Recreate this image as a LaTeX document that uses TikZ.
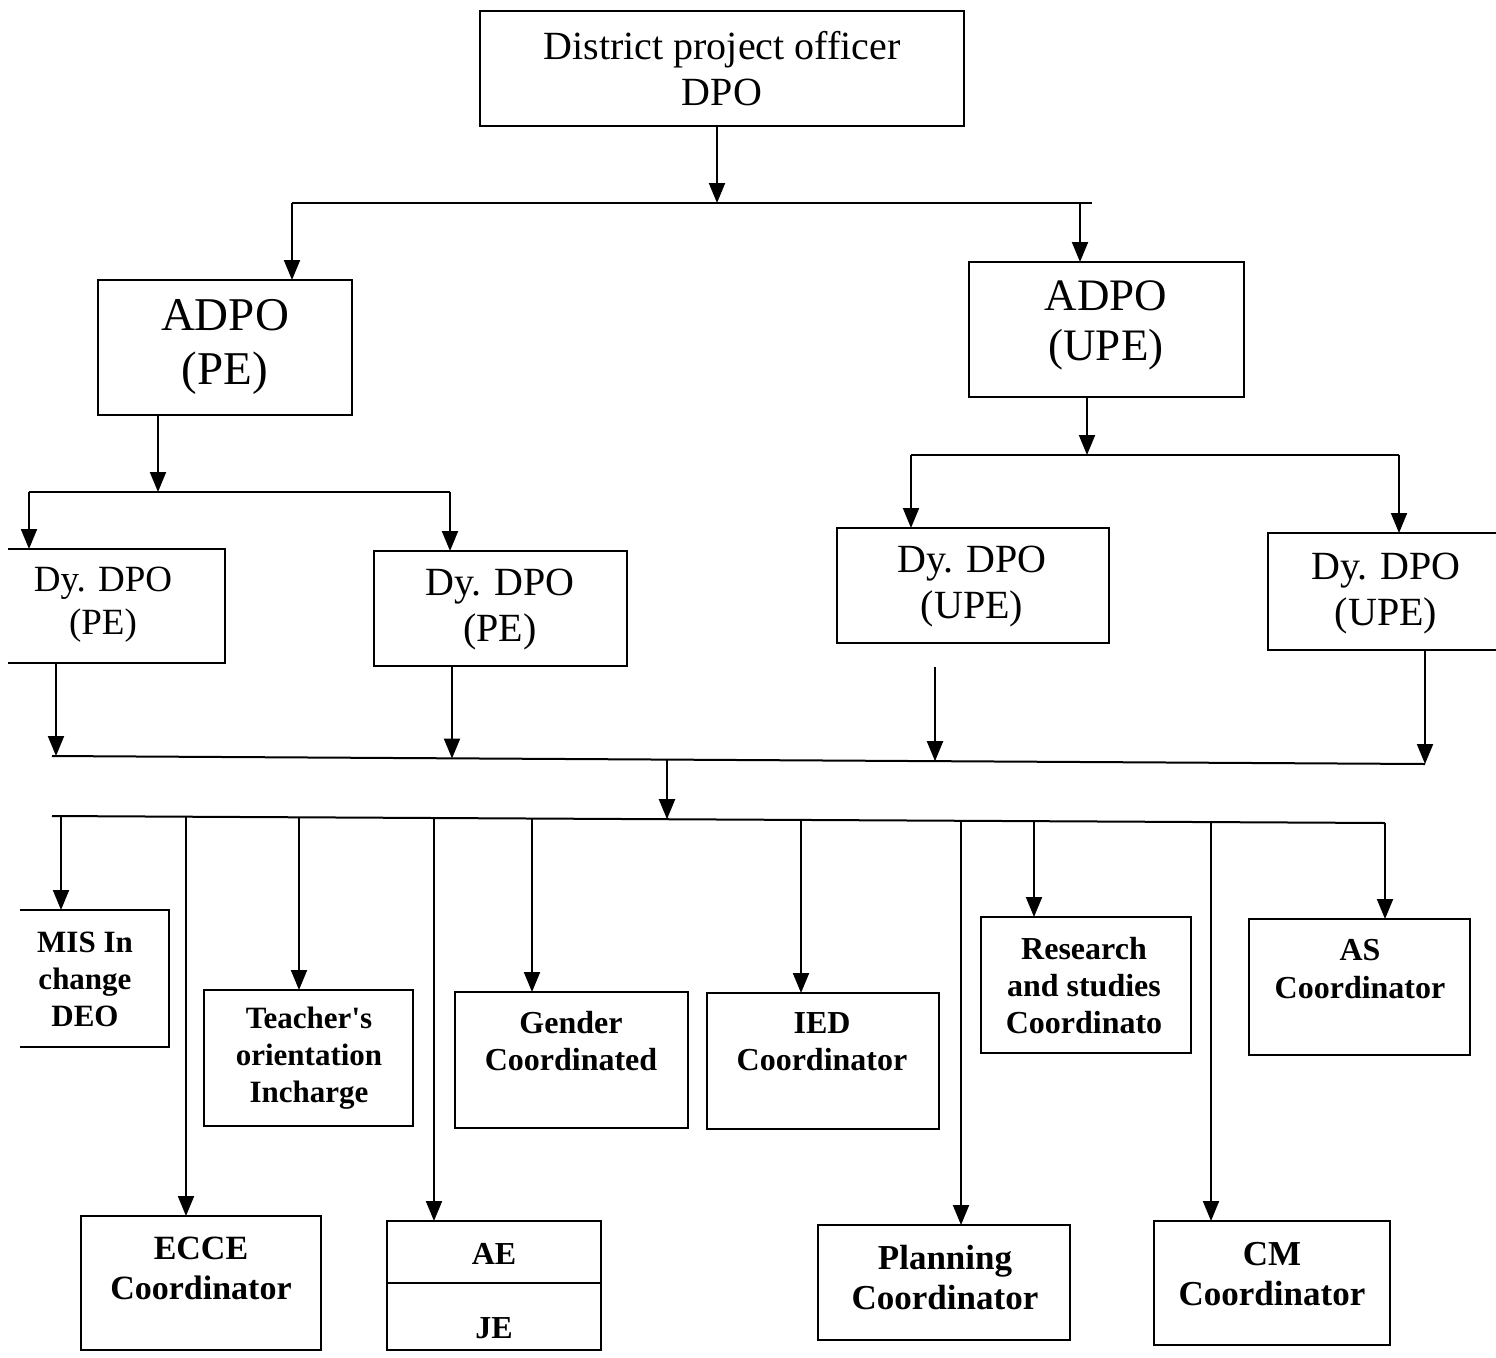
\documentclass[tikz,border=0pt]{standalone}
\usepackage{fontspec}
\setmainfont{Liberation Serif}
\usetikzlibrary{arrows.meta}
\newcommand\mkbox[6][box]{\node[#1, anchor=north west, minimum width={#5pt-#3pt}, minimum height={#6pt-#4pt}] (#2) at (#3,#4) {};}
\begin{document}
\begin{tikzpicture}[x=1pt,y=-1pt,
  box/.style={draw, line width=2.4pt, inner sep=0pt, outer sep=0pt},
  openbox/.style={inner sep=0pt, outer sep=0pt},
  edge/.style={line width=2.4pt},
  ln/.style={line width=2pt},
  arr/.style={line width=2pt, -{Triangle[length=20pt,width=16pt]}},
  t/.style={align=center, inner sep=0pt, font=#1},
]
\useasboundingbox (0,0) rectangle (1496,1357);

% ---------- boxes ----------
\mkbox{dpo}{480}{11}{964}{126}
\mkbox{adpope}{98}{280}{352}{415}
\mkbox{adpoupe}{969}{262}{1244}{397}
\mkbox[openbox]{dype1}{8}{549}{225}{663}
\draw[edge] (dype1.north west) -- (dype1.north east) -- (dype1.south east) -- (dype1.south west);
\mkbox{dype2}{374}{551}{627}{666}
\mkbox{dyupe1}{837}{528}{1109}{643}
\mkbox[openbox]{dyupe2}{1268}{533}{1497}{650}
\draw[edge] (dyupe2.north east) -- (dyupe2.north west) -- (dyupe2.south west) -- (dyupe2.south east);
\mkbox[openbox]{mis}{20}{910}{169}{1047}
\draw[edge] (mis.north west) -- (mis.north east) -- (mis.south east) -- (mis.south west);
\mkbox{teach}{204}{990}{413}{1126}
\mkbox{gender}{455}{992}{688}{1128}
\mkbox{ied}{707}{993}{939}{1129}
\mkbox{research}{981}{917}{1191}{1053}
\mkbox{as}{1249}{919}{1470}{1055}
\mkbox{ecce}{81}{1216}{321}{1350}
\mkbox{aeje}{387}{1221}{601}{1350}
\coordinate (div) at (0,1283);
\draw[edge] (aeje.west |- div) -- (aeje.east |- div);
\mkbox{planning}{818}{1225}{1070}{1340}
\mkbox{cm}{1154}{1221}{1390}{1345}

% ---------- texts ----------
\node[t={\fontsize{40}{46}\selectfont}] (dpoT) at (722,69) {District project officer\\DPO};
\node[t={\fontsize{47}{54}\selectfont}] (adpopeT) at (225,347) {ADPO\\(PE)};
\node[t={\fontsize{45}{50}\selectfont}] (adpoupeT) at (1106,325) {ADPO\\(UPE)};
\node[t={\fontsize{37}{43}\selectfont}] (dype1T) at (103,605) {Dy. DPO\\(PE)};
\node[t={\fontsize{40}{46}\selectfont}] (dype2T) at (500,610) {Dy. DPO\\(PE)};
\node[t={\fontsize{40}{46}\selectfont}] (dyupe1T) at (972,587) {Dy. DPO\\(UPE)};
\node[t={\fontsize{40}{46}\selectfont}] (dyupe2T) at (1386,594) {Dy. DPO\\(UPE)};
\node[t={\bfseries\fontsize{31}{37}\selectfont}] (misT) at (85,979) {MIS In\\change\\DEO};
\node[t={\bfseries\fontsize{31}{37}\selectfont}] (teachT) at (309,1058) {Teacher\textquotesingle s\\orientation\\Incharge};
\node[t={\bfseries\fontsize{32}{37}\selectfont}] (genderT) at (571,1041) {Gender\\Coordinated};
\node[t={\bfseries\fontsize{32}{37}\selectfont}] (iedT) at (822,1042) {IED\\Coordinator};
\node[t={\bfseries\fontsize{32}{37}\selectfont}] (researchT) at (1084,986) {Research\\and studies\\Coordinato};
\node[t={\bfseries\fontsize{32}{38}\selectfont}] (asT) at (1360,969) {AS\\Coordinator};
\node[t={\bfseries\fontsize{34}{40}\selectfont}] (ecceT) at (201,1268) {ECCE\\Coordinator};
\node[t={\bfseries\fontsize{32}{37}\selectfont}] (aeT) at (494,1254) {AE};
\node[t={\bfseries\fontsize{32}{37}\selectfont}] (jeT) at (494,1328) {JE};
\node[t={\bfseries\fontsize{35}{40}\selectfont}] (planningT) at (945,1278) {Planning\\Coordinator};
\node[t={\bfseries\fontsize{35}{40}\selectfont}] (cmT) at (1272,1274) {CM\\Coordinator};

% ---------- connectors: top ----------
\coordinate (j1) at (717,203);
\draw[arr] (j1 |- dpo.south) -- (j1);
\coordinate (b1L) at (292,203);
\coordinate (b1R) at (1092,203);
\coordinate (b1a) at (1080,203);
\draw[ln] (b1L) -- (b1R);
\draw[arr] (b1L) -- (b1L |- adpope.north);
\draw[arr] (b1a) -- (b1a |- adpoupe.north);

\coordinate (j2) at (158,492);
\draw[arr] (j2 |- adpope.south) -- (j2);
\coordinate (b2L) at (29,492);
\coordinate (b2R) at (450,492);
\draw[ln] (b2L) -- (b2R);
\draw[arr] (b2L) -- (b2L |- dype1.north);
\draw[arr] (b2R) -- (b2R |- dype2.north);

\coordinate (j3) at (1087,455);
\draw[arr] (j3 |- adpoupe.south) -- (j3);
\coordinate (b3L) at (911,455);
\coordinate (b3R) at (1399,455);
\draw[ln] (b3L) -- (b3R);
\draw[arr] (b3L) -- (b3L |- dyupe1.north);
\draw[arr] (b3R) -- (b3R |- dyupe2.north);

% ---------- collecting bar ----------
\coordinate (cL) at (52,756);
\coordinate (c1) at (56,756);
\coordinate (c2) at (452,758.5);
\coordinate (c3) at (935,761.2);
\coordinate (c4) at (1425,764);
\draw[ln] (cL) -- (c4);
\draw[arr] (c1 |- dype1.south) -- (c1);
\draw[arr] (c2 |- dype2.south) -- (c2);
\coordinate (s3) at (935,667);
\draw[arr] (s3) -- (c3);
\draw[arr] (c4 |- dyupe2.south) -- (c4);

\coordinate (c5) at (667,759.6);
\coordinate (j5) at (667,819.2);
\draw[arr] (c5) -- (j5);

% ---------- lower bar ----------
\coordinate (d0) at (52,816);
\coordinate (dE) at (1385,823);
\draw[ln] (d0) -- (dE);
\coordinate (d1) at (61,816);
\coordinate (d2) at (186,816.7);
\coordinate (d3) at (299,817.3);
\coordinate (d4) at (434,818);
\coordinate (d5) at (532,818.5);
\coordinate (d6) at (801,819.9);
\coordinate (d7) at (961,820.8);
\coordinate (d8) at (1034,821.2);
\coordinate (d9) at (1211,822.1);
\draw[arr] (d1) -- (d1 |- mis.north);
\draw[arr] (d2) -- (d2 |- ecce.north);
\draw[arr] (d3) -- (d3 |- teach.north);
\draw[arr] (d4) -- (d4 |- aeje.north);
\draw[arr] (d5) -- (d5 |- gender.north);
\draw[arr] (d6) -- (d6 |- ied.north);
\draw[arr] (d7) -- (d7 |- planning.north);
\draw[arr] (d8) -- (d8 |- research.north);
\draw[arr] (d9) -- (d9 |- cm.north);
\draw[arr] (dE) -- (dE |- as.north);
\end{tikzpicture}
\end{document}
